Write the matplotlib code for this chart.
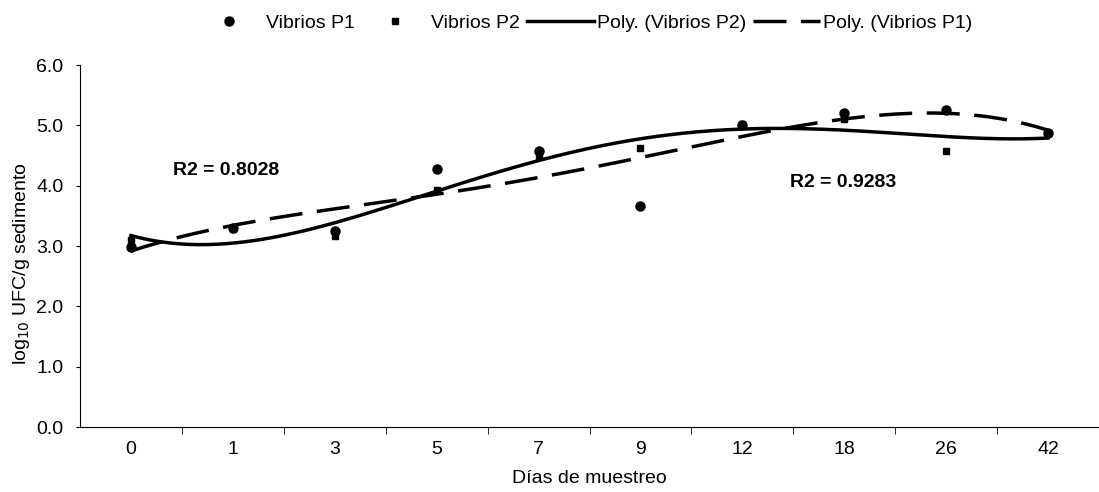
import matplotlib.pyplot as plt
import numpy as np
from matplotlib.lines import Line2D

plt.rcParams["font.family"] = ["Liberation Sans", "DejaVu Sans"]

dias = ["0", "1", "3", "5", "7", "9", "12", "18", "26", "42"]
p1 = [2.98, 3.30, 3.25, 4.28, 4.57, 3.67, 5.00, 5.20, 5.25, 4.87]
p2 = [3.10, 3.28, 3.17, 3.93, 4.50, 4.62, 5.03, 5.10, 4.57, 4.87]
r2_p1 = "R2 = 0.8028"
r2_p2 = "R2 = 0.9283"

x = np.arange(len(dias))
xx = np.linspace(0, len(dias) - 1, 300)
# polynomial trendlines (Excel style, x = 1..n)
fit1 = np.polyval(np.polyfit(x + 1, p1, 4), xx + 1)
fit2 = np.polyval(np.polyfit(x + 1, p2, 4), xx + 1)

fig = plt.figure(figsize=(10.99, 4.92), dpi=100)
ax = fig.add_axes([80 / 1099, 65 / 492, 1019 / 1099, 362 / 492])

lw = 2.5
dash = (0, (9.5, 4.2))
ax.plot(xx, fit2, color="black", lw=lw)
ax.plot(xx, fit1, color="black", lw=lw, ls=dash)
ax.plot(x, p1, "o", color="black", ms=6.5)
ax.plot(x, p2, "s", color="black", ms=5)

ax.text(0.41, 4.17, r2_p1, fontsize=14, fontweight="bold")
ax.text(6.47, 3.98, r2_p2, fontsize=14, fontweight="bold")

ax.set_xlim(-0.5, len(dias) - 0.5)
ax.set_ylim(0, 6)
ax.set_xticks(x)
ax.set_xticklabels(dias, fontsize=14)
ax.set_xticks(x[:-1] + 0.5, minor=True)
ax.tick_params(axis="x", which="major", length=0, pad=10)
ax.tick_params(axis="x", which="minor", length=5, direction="out")
ax.set_yticks(np.arange(0, 7, 1))
ax.set_yticklabels([f"{v:.1f}" for v in np.arange(0, 7, 1)], fontsize=14)
ax.tick_params(axis="y", length=3, direction="out", pad=9)
ax.spines["top"].set_visible(False)
ax.spines["right"].set_visible(False)
ax.set_xlabel("Días de muestreo", fontsize=14, labelpad=9)
fig.text(22 / 1099, 1 - 264 / 492, "log$_{10}$ UFC/g sedimento", fontsize=14,
         rotation=90, ha="center", va="center")

handles = [
    Line2D([], [], marker="o", ls="none", color="black", ms=6.5),
    Line2D([], [], marker="s", ls="none", color="black", ms=5),
    Line2D([], [], color="black", lw=lw),
    Line2D([], [], color="black", lw=lw, ls=dash),
]
labels = ["Vibrios P1", "Vibrios P2", "Poly. (Vibrios P2)", "Poly. (Vibrios P1)"]
fig.legend(handles, labels, loc="center", bbox_to_anchor=(584 / 1099, 1 - 23 / 492),
           ncol=4, frameon=False, fontsize=14, handlelength=3.45, columnspacing=0.35,
           handletextpad=0.15, borderpad=0)

fig.savefig("out.png")
